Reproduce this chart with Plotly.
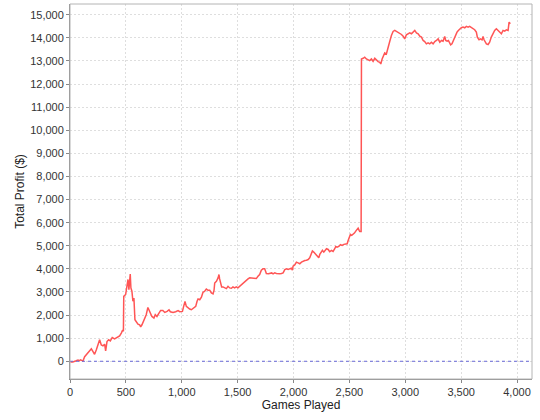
import plotly.graph_objects as go

games = [0, 10, 25, 42, 55, 72, 85, 95, 105, 116, 131, 146, 161, 176, 191, 206, 220, 235, 250, 265,
         280, 295, 310, 319, 331, 346, 361, 378, 399, 423, 444, 459, 471, 478, 481, 498, 504, 513, 519, 527,
         533, 539, 545, 554, 563, 572, 581, 593, 608, 623, 632, 644, 656, 668, 682, 697, 706, 721, 733, 751,
         763, 778, 793, 811, 831,
         848, 869, 886, 898, 922, 946, 967, 982, 1006, 1017, 1029, 1041, 1056, 1071, 1086, 1101, 1116, 1125,
         1137, 1146, 1161, 1176, 1190, 1205, 1220, 1235, 1250, 1265, 1280, 1289, 1295, 1310, 1325, 1333, 1339,
         1348, 1357, 1369, 1384, 1399, 1414, 1429, 1444, 1458, 1473, 1488, 1503, 1518, 1533, 1548, 1563, 1578,
         1593, 1608, 1622, 1637, 1667, 1682, 1697, 1712, 1727, 1742, 1757, 1776,
         1787, 1805, 1817, 1832, 1847, 1862, 1877, 1892, 1907, 1922, 1937, 1952, 1966, 1981, 1990, 1996, 2011,
         2026, 2041, 2056, 2071, 2086, 2101, 2116, 2131, 2145, 2160, 2169, 2181, 2196, 2211, 2226, 2235, 2244,
         2259, 2271, 2283, 2295, 2310, 2324, 2339, 2354, 2369, 2378, 2390, 2405, 2420, 2435, 2450, 2465, 2480,
         2489, 2497, 2509, 2521, 2533, 2545, 2557, 2569, 2578, 2587, 2593, 2605,
         2608, 2623, 2637, 2652, 2667, 2682, 2697, 2712, 2727, 2742, 2757, 2772, 2781, 2793, 2805, 2816, 2831,
         2846, 2861, 2876, 2891, 2906, 2921, 2936, 2951, 2966, 2981, 2995, 3010, 3025, 3040, 3055, 3070, 3085,
         3100, 3115, 3130, 3145, 3160, 3174, 3189, 3204, 3219, 3234, 3249, 3264, 3279, 3294, 3309, 3324,
         3338, 3353, 3362, 3374, 3386, 3397, 3406, 3418, 3427, 3439, 3451, 3463, 3475, 3487, 3502, 3517, 3532,
         3547, 3562, 3576, 3591, 3606, 3621, 3636, 3645, 3660, 3672, 3687, 3696, 3705, 3717, 3726, 3741, 3755,
         3770, 3785, 3800, 3815, 3830, 3845, 3860, 3875, 3890, 3905, 3920, 3929, 3940]

profit = [0, -30, -30, -20, 20, 50, 30, 60, 40, 10, 200, 280, 350, 450, 540, 420, 300, 490, 710, 930,
          710, 670, 740, 450, 855, 930, 885, 1030, 970, 1030, 1100, 1220, 1350, 1300, 2810, 2890, 3100, 3250, 3540, 3100,
          3755, 3780, 3175, 3030, 2600, 2740, 1800, 1725, 1610, 1580, 1490, 1580, 1725, 1900, 2015, 2330, 2230, 2015, 1940, 1870,
          2015, 1940, 2045, 2200, 2200,
          2115, 2160, 2230, 2145, 2115, 2145, 2190, 2145, 2160, 2375, 2595, 2375, 2300, 2260, 2230, 2290, 2375, 2375,
          2595, 2700, 2665, 2770, 2985, 3030, 3130, 3075, 3075, 2955, 2915, 3075, 3390, 3465, 3610, 3755, 3565,
          3420, 3220, 3220, 3175, 3145, 3245, 3175, 3160, 3220, 3175, 3220, 3175, 3245, 3320, 3390, 3465, 3510,
          3565, 3610, 3610, 3580, 3580, 3680, 3755, 3945, 4000, 4000, 3800, 3785,
          3800, 3825, 3785, 3825, 3800, 3785, 3785, 3800, 3825, 3970, 4000, 3970, 4000, 4030, 3940, 4115, 4170,
          4290, 4260, 4220, 4290, 4335, 4360, 4375, 4405, 4480, 4625, 4770, 4725, 4625, 4540, 4480, 4625, 4680,
          4800, 4725, 4800, 4870, 4840, 4740, 4800, 4755, 4870, 4970, 4940, 4970, 5045, 5015, 5060, 5085, 5085,
          5230, 5345, 5490, 5450, 5490, 5550, 5635, 5695, 5765, 5665, 5620, 5620,
          13085, 13115, 13160, 13085, 13057, 13015, 13085, 12985, 13115, 13015, 12970, 12940, 12870, 13085, 13260, 13350, 13300,
          13520, 13840, 14100, 14275, 14320, 14275, 14245, 14215, 14145, 14070, 13955, 14130, 14175, 14215, 14175, 14245, 14320,
          14215, 14175, 14070, 14030, 13885, 13840, 13740, 13785, 13740, 13810, 13740, 13840, 13885, 13955, 13810, 13885,
          13855, 14060, 13885, 13855, 13885, 13810, 13695, 13740, 13855, 14030, 14175, 14245, 14320, 14390, 14435, 14465, 14435,
          14495, 14465, 14495, 14435, 14390, 14350, 14245, 14030, 13915, 13955, 13915, 14060, 13915, 13770, 13740, 13710, 13810,
          14030, 14175, 14320, 14390, 14320, 14245, 14175, 14320, 14290, 14350, 14320, 14680, 14610]

x_title = "Games Played"
y_title = "Total Profit ($)"

fig = go.Figure()
fig.add_trace(go.Scatter(x=games, y=profit, mode="lines",
                         line=dict(color="#FF5555", width=1.5), showlegend=False))

fig.add_hline(y=0, line=dict(color="#6a6ad8", width=1, dash="dot"))

axis_common = dict(
    showgrid=True, gridcolor="#dedede", griddash="2px,2px", gridwidth=1,
    zeroline=False, showline=True, linecolor="#888888", linewidth=1,
    ticks="outside", ticklen=3, tickcolor="#888888", tickformat=",",
    tickfont=dict(family="Liberation Sans", size=11, color="#333333"),
    mirror=False, automargin=False,
)

fig.update_xaxes(range=[0, 4134], dtick=500, tick0=0,
                 title=dict(text=x_title, font=dict(family="Liberation Sans", size=12, color="#222222"), standoff=2),
                 **axis_common)
fig.update_yaxes(range=[-767, 15464], dtick=1000, tick0=0,
                 title=dict(text=y_title, font=dict(family="Liberation Sans", size=12, color="#222222"), standoff=2),
                 **axis_common)

fig.add_shape(type="rect", xref="paper", yref="paper", x0=0, y0=0, x1=1, y1=1,
              line=dict(color="#b4b4b4", width=1), layer="above")

fig.update_layout(
    width=540, height=420,
    margin=dict(l=70, r=8, t=4, b=41),
    plot_bgcolor="white", paper_bgcolor="white",
)

fig.write_html("out.html", config={"displayModeBar": False},
               post_script="document.body.style.margin='0';document.body.style.overflow='hidden';")
